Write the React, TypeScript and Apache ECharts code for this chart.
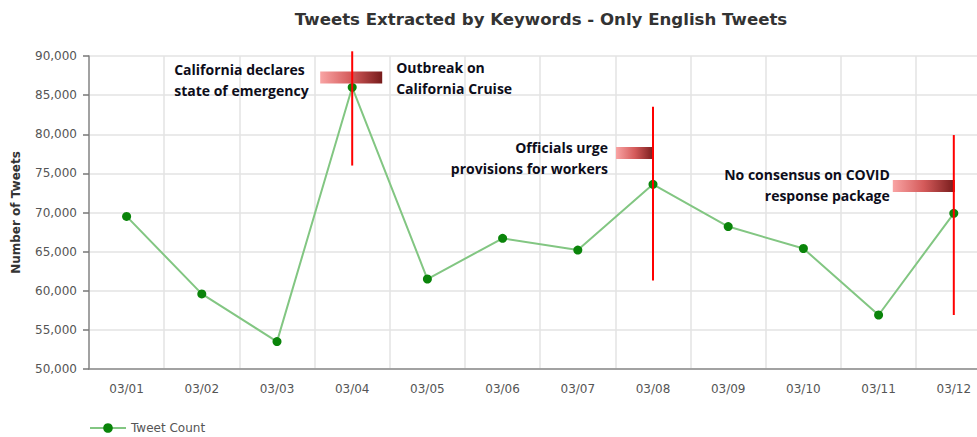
import React, { useEffect, useRef } from "react";
import * as echarts from "echarts";

const categories = ["03/01", "03/02", "03/03", "03/04", "03/05", "03/06", "03/07", "03/08", "03/09", "03/10", "03/11", "03/12"];
const tweetCounts = [69500, 59600, 53500, 86000, 61500, 66700, 65200, 73600, 68200, 65400, 56900, 69900];
const yMin = 50000;
const yMax = 90000;
const yInterval = 5000;

const annotationDates = ["03/04", "03/08", "03/12"];
const annotationLineTop = [90600, 83500, 79900];
const annotationLineBottom = [76000, 61300, 56900];
const annotationBandValue = [87250, 77600, 73400];
const annotationLeftText = ["California declares\nstate of emergency", "Officials urge\nprovisions for workers", "No consensus on COVID\nresponse package"];
const annotationRightText = ["Outbreak on\nCalifornia Cruise", "", ""];

// pixel layout of each annotation (styles, not data)
const annotationLayout = [
  { bandL: -32, bandR: 30, leftAlign: "left", leftDx: -178, leftDy: 2.5, rightDx: 44, rightDy: 0.5 },
  { bandL: -37, bandR: 1, leftAlign: "right", leftDx: -45, leftDy: 5, rightDx: 0, rightDy: 0 },
  { bandL: -61, bandR: 1, leftAlign: "right", leftDx: -64, leftDy: -1, rightDx: 0, rightDy: 0 },
];

const annFont = 'bold 14px "Open Sans", Lato, sans-serif';
const annColor = "#0d0d1a";

export default function App() {
  const ref = useRef<HTMLDivElement>(null);
  useEffect(() => {
    if (!ref.current) return;
    const chart = echarts.init(ref.current, undefined, { renderer: "svg" });
    const annData = annotationDates.map((d, i) => [categories.indexOf(d), annotationLineTop[i], annotationLineBottom[i], annotationBandValue[i]]);
    const option: any = {
      animation: false,
      backgroundColor: "#ffffff",
      textStyle: { fontFamily: "DejaVu Sans" },
      graphic: [
        {
          type: "text",
          x: 541,
          y: 19,
          style: {
            text: "Tweets Extracted by Keywords - Only English Tweets",
            font: 'bold 16.6px "DejaVu Sans"',
            fill: "#333333",
            textAlign: "center",
            textVerticalAlign: "middle",
          },
        },
      ],
      grid: { left: 89, top: 56, width: 902.4, height: 313, containLabel: false, outerBoundsMode: "none" },
      legend: {
        data: ["Tweet Count"],
        left: 89,
        top: 422,
        padding: 0,
        itemWidth: 36,
        itemHeight: 12,
        textStyle: { color: "#555555", fontSize: 12, fontFamily: "DejaVu Sans" },
      },
      xAxis: {
        type: "category",
        data: categories,
        boundaryGap: true,
        axisLine: { lineStyle: { color: "#8a8a8a", width: 1.5 } },
        axisTick: { alignWithLabel: true, length: 5, lineStyle: { color: "#777777", width: 1.5 } },
        axisLabel: { color: "#555555", fontSize: 12, fontFamily: "DejaVu Sans", margin: 14 },
        splitLine: { show: true, lineStyle: { color: "#e3e3e3", width: 1.5 } },
      },
      yAxis: {
        type: "value",
        min: yMin,
        max: yMax,
        interval: yInterval,
        name: "Number of Tweets",
        nameLocation: "middle",
        nameGap: 67,
        nameTextStyle: { color: "#333333", fontSize: 12, fontWeight: "bold", fontFamily: "DejaVu Sans" },
        axisLine: { show: true, lineStyle: { color: "#8a8a8a", width: 1.5 } },
        axisTick: { show: true, length: 6, lineStyle: { color: "#777777", width: 1.5 } },
        axisLabel: {
          color: "#555555",
          fontSize: 12,
          fontFamily: "DejaVu Sans",
          margin: 12,
          formatter: (v: number) => v.toLocaleString("en-US"),
        },
        splitLine: { show: true, lineStyle: { color: "#e3e3e3", width: 1.5 } },
      },
      series: [
        {
          name: "Tweet Count",
          type: "line",
          data: tweetCounts,
          symbol: "circle",
          symbolSize: 9,
          itemStyle: { color: "#0a840a" },
          lineStyle: { color: "#82c682", width: 2 },
          z: 2,
        },
        {
          name: "annotations",
          type: "custom",
          data: annData,
          encode: { x: 0, y: [1, 2, 3] },
          clip: false,
          silent: true,
          z: 5,
          renderItem: (params: any, api: any) => {
            const i = params.dataIndex;
            const L = annotationLayout[i];
            const idx = api.value(0);
            const top = api.coord([idx, api.value(1)]);
            const bot = api.coord([idx, api.value(2)]);
            const band = api.coord([idx, api.value(3)]);
            const x = top[0];
            const children: any[] = [
              {
                type: "rect",
                shape: { x: x + L.bandL, y: band[1] - 6, width: L.bandR - L.bandL, height: 12 },
                style: {
                  fill: new echarts.graphic.LinearGradient(0, 0, 1, 0, [
                    { offset: 0, color: "#f9a4a4" },
                    { offset: 0.5, color: "#d45a5a" },
                    { offset: 1, color: "#761b1b" },
                  ]),
                },
              },
              {
                type: "line",
                shape: { x1: x, y1: top[1], x2: x, y2: bot[1] },
                style: { stroke: "#ff0000", lineWidth: 2 },
              },
            ];
            if (annotationLeftText[i]) {
              children.push({
                type: "text",
                x: x + L.leftDx,
                y: band[1] + L.leftDy,
                style: {
                  text: annotationLeftText[i],
                  font: annFont,
                  fill: annColor,
                  textAlign: L.leftAlign,
                  textVerticalAlign: "middle",
                  lineHeight: 20.5,
                },
              });
            }
            if (annotationRightText[i]) {
              children.push({
                type: "text",
                x: x + L.rightDx,
                y: band[1] + L.rightDy,
                style: {
                  text: annotationRightText[i],
                  font: annFont,
                  fill: annColor,
                  textAlign: "left",
                  textVerticalAlign: "middle",
                  lineHeight: 20.5,
                },
              });
            }
            return { type: "group", children };
          },
        },
      ],
    };
    chart.setOption(option);
    return () => chart.dispose();
  }, []);
  return (
    <div style={{ position: "fixed", left: 0, top: 0, width: 977, height: 437, overflow: "hidden", background: "#fff" }}>
      <div ref={ref} style={{ width: 977, height: 437 }} />
    </div>
  );
}
